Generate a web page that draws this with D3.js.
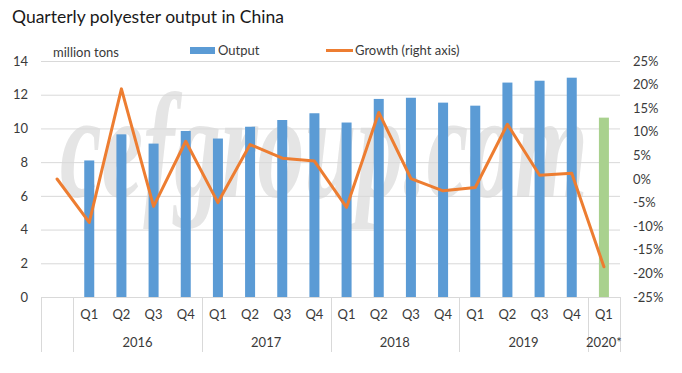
<!DOCTYPE html>
<html>
<head>
<meta charset="utf-8">
<script src="https://cdn.jsdelivr.net/npm/d3@7"></script>
<style>
  html, body { margin: 0; padding: 0; background: #fff; }
  svg { display: block; }
  text { font-family: Lato, "Open Sans", sans-serif; }
</style>
</head>
<body>
<svg id="chart" width="682" height="373"></svg>
<script>
// ---- data ----
const categories = ["", "2016Q1", "2016Q2", "2016Q3", "2016Q4", "2017Q1", "2017Q2", "2017Q3", "2017Q4",
  "2018Q1", "2018Q2", "2018Q3", "2018Q4", "2019Q1", "2019Q2", "2019Q3", "2019Q4", "2020Q1"];
const quarterLabels = ["", "Q1", "Q2", "Q3", "Q4", "Q1", "Q2", "Q3", "Q4", "Q1", "Q2", "Q3", "Q4", "Q1", "Q2", "Q3", "Q4", "Q1"];
const yearGroups = [
  { label: "2016", first: "2016Q1", last: "2016Q4" },
  { label: "2017", first: "2017Q1", last: "2017Q4" },
  { label: "2018", first: "2018Q1", last: "2018Q4" },
  { label: "2019", first: "2019Q1", last: "2019Q4" },
  { label: "2020*", first: "2020Q1", last: "2020Q1" }
];
const output = [null, 8.1, 9.65, 9.1, 9.85, 9.4, 10.1, 10.5, 10.9, 10.35, 11.75, 11.82, 11.53, 11.35, 12.72, 12.83, 13.01, 10.64];
const growth = [0.0, -9.2, 19.1, -5.8, 8.0, -5.0, 7.3, 4.4, 3.8, -6.0, 14.1, 0.1, -2.5, -1.8, 11.6, 0.8, 1.2, -18.6];
const leftTicks = [0, 2, 4, 6, 8, 10, 12, 14];
const rightTicks = [-25, -20, -15, -10, -5, 0, 5, 10, 15, 20, 25];
const highlightCategory = "2020Q1";

// ---- layout ----
const svg = d3.select("#chart");
const plot = { left: 41, right: 620, top: 61, bottom: 297 };

const x = d3.scaleBand().domain(categories).range([plot.left, plot.right]).paddingInner(0).paddingOuter(0);
const yL = d3.scaleLinear().domain([0, 14]).range([plot.bottom, plot.top]);
const yR = d3.scaleLinear().domain([-25, 25]).range([plot.bottom, plot.top]);

const textColor = "#3a3a3a";
const gridColor = "#d9d9d9";

// watermark (horizontally compressed to fit the plot)
const wmG = svg.append("g");
const wm = wmG.append("text")
  .attr("x", 0).attr("y", 0)
  .style("font-family", "'Liberation Serif', serif")
  .style("font-style", "italic")
  .style("font-weight", "bold")
  .style("font-size", "150px")
  .attr("fill", "#e5e5e5")
  .text("cefgroup.com");
const wmLen = wm.node().getComputedTextLength();
wmG.attr("transform", `translate(60,197) scale(${528 / wmLen},1)`);

// title
svg.append("text")
  .attr("x", 12).attr("y", 23)
  .style("font-size", "17.5px")
  .attr("fill", "#1a1a1a")
  .text("Quarterly polyester output in China");

// gridlines
svg.append("g").selectAll("line").data(leftTicks).join("line")
  .attr("x1", plot.left).attr("x2", plot.right)
  .attr("y1", d => yL(d) + 0.5).attr("y2", d => yL(d) + 0.5)
  .attr("stroke", gridColor).attr("stroke-width", 1);

// left axis
const gL = svg.append("g").attr("transform", `translate(${plot.left},0)`)
  .call(d3.axisLeft(yL).tickValues(leftTicks).tickSize(0).tickPadding(13));
gL.select(".domain").remove();
gL.selectAll("text").style("font-size", "13px").style("font-family", "Lato, sans-serif").attr("fill", textColor);

// right axis
const gR = svg.append("g").attr("transform", `translate(${plot.right},0)`)
  .call(d3.axisRight(yR).tickValues(rightTicks).tickSize(0).tickPadding(13).tickFormat(d => d + "%"));
gR.select(".domain").remove();
gR.selectAll("text").style("font-size", "13px").style("font-family", "Lato, sans-serif").attr("fill", textColor);

// bars
const barW = 10;
svg.append("g").selectAll("rect")
  .data(categories.map((c, i) => ({ c, v: output[i] })).filter(d => d.v != null))
  .join("rect")
  .attr("x", d => x(d.c) + x.bandwidth() / 2 - barW / 2)
  .attr("width", barW)
  .attr("y", d => yL(d.v))
  .attr("height", d => yL(0) - yL(d.v))
  .attr("fill", d => d.c === highlightCategory ? "#a9d18e" : "#5b9bd5");

// bottom axis: quarter labels
const gB = svg.append("g").attr("transform", `translate(0,${plot.bottom})`)
  .call(d3.axisBottom(x).tickSize(0).tickPadding(13).tickFormat((d, i) => quarterLabels[i]));
gB.select(".domain").attr("stroke", gridColor).attr("d", `M${plot.left},0.5H${plot.right}`);
gB.selectAll("text").style("font-size", "13px").style("font-family", "Lato, sans-serif").attr("fill", textColor);

// separators
const sepXs = [plot.left, x(categories[1])].concat(yearGroups.map(g => x(g.last) + x.bandwidth()));
svg.append("g").selectAll("line").data(sepXs).join("line")
  .attr("x1", d => Math.round(d) + 0.5).attr("x2", d => Math.round(d) + 0.5)
  .attr("y1", plot.bottom).attr("y2", 352)
  .attr("stroke", gridColor).attr("stroke-width", 1);

// year labels
svg.append("g").selectAll("text").data(yearGroups).join("text")
  .attr("x", d => (x(d.first) + x(d.last) + x.bandwidth()) / 2)
  .attr("y", 347)
  .attr("text-anchor", "middle")
  .style("font-size", "13px")
  .attr("fill", textColor)
  .text(d => d.label);

// growth line
const line = d3.line().x((d, i) => x(categories[i]) + x.bandwidth() / 2).y(d => yR(d));
svg.append("path").datum(growth)
  .attr("d", line)
  .attr("fill", "none").attr("stroke", "#ed7d31").attr("stroke-width", 3)
  .attr("stroke-linejoin", "round").attr("stroke-linecap", "round");

// unit label
svg.append("text").attr("x", 53).attr("y", 57)
  .style("font-size", "13px").attr("fill", textColor).text("million tons");

// legend
svg.append("rect").attr("x", 190).attr("y", 47).attr("width", 25).attr("height", 7).attr("fill", "#5b9bd5");
svg.append("text").attr("x", 218).attr("y", 55).style("font-size", "13px").attr("fill", textColor).text("Output");
svg.append("line").attr("x1", 326).attr("x2", 353).attr("y1", 50.5).attr("y2", 50.5)
  .attr("stroke", "#ed7d31").attr("stroke-width", 3);
svg.append("text").attr("x", 355).attr("y", 55).style("font-size", "13px").attr("fill", textColor).text("Growth (right axis)");
</script>
</body>
</html>
